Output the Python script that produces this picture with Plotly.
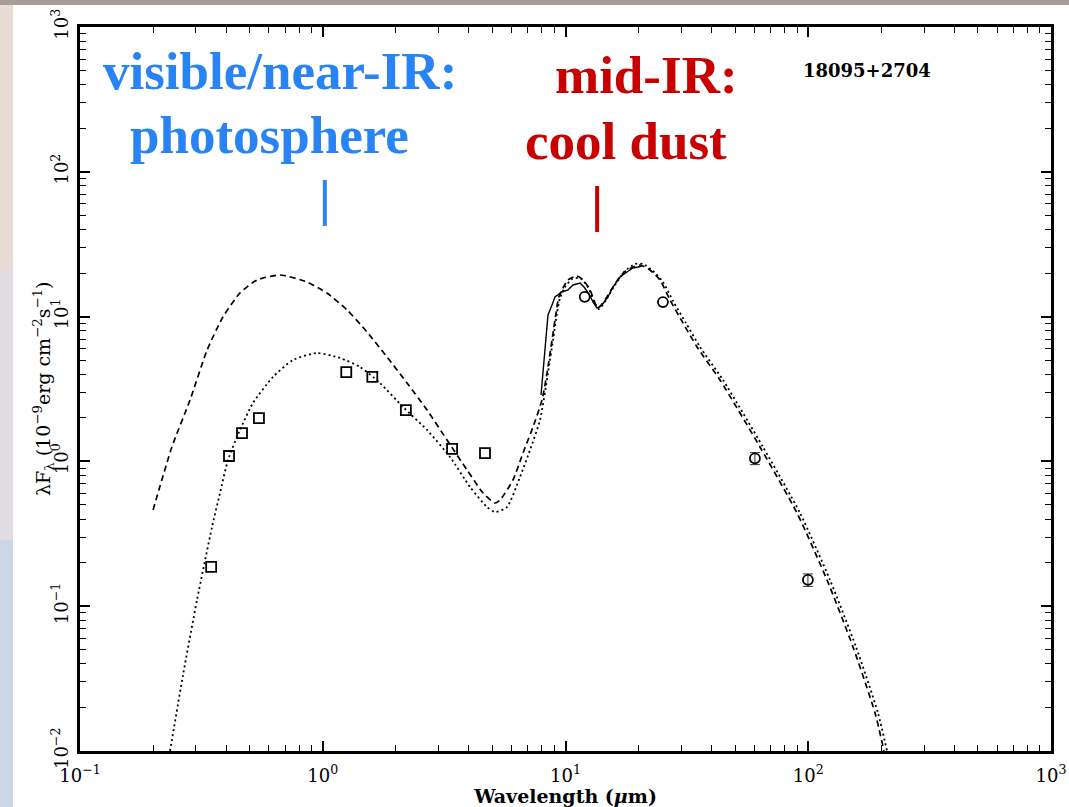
import plotly.graph_objects as go

# ---------------- data ----------------
dash_wl = [0.200, 0.239, 0.284, 0.334, 0.388, 0.456, 0.536, 0.667, 0.861, 1.041, 1.259, 1.522,
           1.839, 2.224, 2.689, 3.25, 3.93, 4.575, 5.125, 5.373, 6.077, 6.681, 7.347, 8.003,
           8.391, 8.799, 9.14, 9.36, 9.67, 10.24, 11.15, 11.81, 12.62, 13.23, 13.61, 14.54,
           15.69, 17.26, 18.97, 20.27, 22.29, 24.51, 26.95, 30.49, 34.81, 43.29, 63.29, 89.88,
           119.5, 152.9, 188.4, 205.2]
dash_flux = [0.462, 1.257, 2.655, 5.88, 9.94, 14.55, 17.9, 19.38, 17.34, 14.55, 11.11, 7.83,
             5.26, 3.48, 2.265, 1.405, 0.872, 0.605, 0.516, 0.541, 0.744, 1.143, 1.728, 2.655,
             4.08, 6.89, 10.59, 13.44, 15.27, 17.9, 19.07, 17.9, 15.27, 12.41, 11.47, 13.02,
             16.01, 20.0, 22.0, 22.72, 20.98, 17.9, 13.02, 9.03, 6.17, 3.65, 1.257, 0.440,
             0.1517, 0.0523, 0.0183, 0.0100]

dot_wl = [0.2349, 0.2657, 0.3034, 0.3498, 0.3773, 0.4071, 0.456, 0.516, 0.6238, 0.7543, 0.947,
          1.178, 1.424, 1.721, 2.141, 2.689, 3.344, 4.043, 4.749, 5.125, 5.741, 6.494, 7.142,
          7.852, 8.47, 8.883, 9.226, 9.493, 9.954, 10.64, 11.48, 12.38, 13.11, 13.74, 14.68,
          15.99, 17.59, 19.33, 20.86, 22.94, 25.22, 27.73, 31.36, 35.82, 44.54, 65.11, 92.47,
          122.9, 157.3, 193.8, 211.1]
dot_flux = [0.0100, 0.0335, 0.1104, 0.352, 0.605, 1.023, 1.648, 2.531, 3.83, 5.016, 5.606,
            5.178, 4.486, 3.48, 2.375, 1.648, 1.072, 0.666, 0.484, 0.447, 0.484, 0.780, 1.198,
            1.931, 4.08, 6.89, 10.59, 13.44, 16.01, 18.19, 18.48, 16.01, 12.61, 11.28, 13.02,
            16.53, 20.65, 23.09, 23.09, 20.65, 17.34, 12.81, 9.03, 6.17, 3.65, 1.257, 0.440,
            0.1517, 0.0523, 0.0183, 0.0100]

lrs_wl = [7.928, 8.233, 8.47, 8.799, 9.05, 9.67, 10.24, 10.74, 11.48, 11.92, 12.50, 12.98,
          13.49, 14.14, 14.96, 15.69, 16.77, 17.92, 18.97, 19.89, 20.66]
lrs_flux = [2.874, 5.88, 10.26, 12.03, 13.66, 14.79, 15.27, 16.53, 17.07, 16.01, 14.32, 12.61,
            11.47, 12.03, 13.66, 16.01, 18.77, 20.32, 21.66, 22.0, 22.36]

phot_wl = [0.347, 0.411, 0.465, 0.546, 1.25, 1.60, 2.20, 3.41, 4.66]
phot_flux = [0.187, 1.09, 1.57, 1.99, 4.14, 3.83, 2.26, 1.22, 1.14]

iras_wl = [12.0, 25.2]
iras_flux = [13.7, 12.6]
iras_far_wl = [60.3, 99.7]
iras_far_flux = [1.05, 0.152]
iras_far_err = [0.10, 0.015]

region_wl = [1.02, 13.5]
region_lo = [42.3, 38.4]
region_hi = [87.8, 79.8]
region_colors = ["rgb(40,132,245)", "rgb(200,0,0)"]

x_ticks = [0.1, 1, 10, 100, 1000]
x_tick_labels = ["10<sup>−1</sup>", "10<sup>0</sup>", "10<sup>1</sup>", "10<sup>2</sup>", "10<sup>3</sup>"]
y_ticks = [0.01, 0.1, 1, 10, 100, 1000]
y_tick_labels = ["10<sup>−2</sup>", "10<sup>−1</sup>", "10<sup>0</sup>", "10<sup>1</sup>",
                 "10<sup>2</sup>", "10<sup>3</sup>"]
x_minor = [m * 10.0 ** e for e in range(-1, 3) for m in range(2, 10)]
y_minor = [m * 10.0 ** e for e in range(-2, 3) for m in range(2, 10)]

# ---------------- layout geometry ----------------
W, H = 1069, 807
L, R, T, B = 80, 1051, 27, 751


def px(p):
    return (p - L) / (R - L)


def py(p):
    return (B - p) / (B - T)


SERIF = "DejaVu Serif"
TIMES = "Liberation Serif"

fig = go.Figure()

fig.add_trace(go.Scatter(x=dash_wl, y=dash_flux, mode="lines",
                         line=dict(color="black", width=1.7, dash="6px,4px", shape="spline", smoothing=0.6),
                         showlegend=False, hoverinfo="skip"))
fig.add_trace(go.Scatter(x=dot_wl, y=dot_flux, mode="lines",
                         line=dict(color="black", width=1.8, dash="2px,3px", shape="spline", smoothing=0.6),
                         showlegend=False, hoverinfo="skip"))
fig.add_trace(go.Scatter(x=lrs_wl, y=lrs_flux, mode="lines",
                         line=dict(color="black", width=1.4),
                         showlegend=False, hoverinfo="skip"))
fig.add_trace(go.Scatter(x=phot_wl, y=phot_flux, mode="markers",
                         marker=dict(symbol="square-open", size=10, color="black", line=dict(width=1.8)),
                         showlegend=False, hoverinfo="skip"))
fig.add_trace(go.Scatter(x=iras_wl, y=iras_flux, mode="markers",
                         marker=dict(symbol="circle-open", size=10, color="black", line=dict(width=1.8)),
                         showlegend=False, hoverinfo="skip"))
fig.add_trace(go.Scatter(x=iras_far_wl, y=iras_far_flux, mode="markers",
                         marker=dict(symbol="circle-open", size=10, color="black", line=dict(width=1.8)),
                         error_y=dict(type="data", array=iras_far_err, color="black", thickness=0.8, width=5),
                         showlegend=False, hoverinfo="skip"))

# region markers (short coloured bars)
for wl, lo, hi, col in zip(region_wl, region_lo, region_hi, region_colors):
    fig.add_shape(type="line", xref="x", yref="y", x0=wl, x1=wl, y0=lo, y1=hi,
                  line=dict(color=col, width=4))

# background (slide photo behind the scanned figure)
bg_shapes = [
    (0, 13, 0, 270, "#e8ddd6"),
    (0, 13, 270, 540, "#e2dbe1"),
    (0, 13, 540, 807, "#cdd6e7"),
    (0, 1069, 0, 5, "#a59e98"),
    (13, 1069, 5, 807, "white"),
]
for x0, x1, y0, y1, c in bg_shapes:
    fig.add_shape(type="rect", xref="paper", yref="paper", layer="below",
                  x0=px(x0), x1=px(x1), y0=py(y1), y1=py(y0),
                  line=dict(width=0), fillcolor=c)

# annotations
ann = [
    ("visible/near-IR:", 280, 71, "rgb(40,132,245)", TIMES, 53),
    ("photosphere", 269, 135, "rgb(40,132,245)", TIMES, 53),
    ("mid-IR:", 646, 75, "rgb(200,0,0)", TIMES, 53),
    ("cool dust", 626, 141, "rgb(200,0,0)", TIMES, 53),
    ("18095+2704", 867, 70, "black", SERIF, 18),
]
for text, x, y, col, fam, size in ann:
    fig.add_annotation(text=f"<b>{text}</b>", xref="paper", yref="paper",
                       x=px(x), y=py(y), xanchor="center", yanchor="middle", showarrow=False,
                       font=dict(family=fam, size=size, color=col))

axis_common = dict(
    type="log", showgrid=False, zeroline=False, automargin=False,
    showline=True, linecolor="black", linewidth=3, mirror="allticks",
    ticks="inside", ticklen=10, tickwidth=1.6, tickcolor="black",
    tickmode="array",
    tickfont=dict(family=SERIF, size=18, color="black"),
)

fig.update_xaxes(**axis_common, range=[-1, 3], tickvals=x_ticks, ticktext=x_tick_labels,
                 ticklabelstandoff=6,
                 minor=dict(tickmode="array", tickvals=x_minor, ticks="inside", ticklen=6,
                            tickwidth=1.4, tickcolor="black"),
                 title=dict(text="<b>Wavelength (<i>μ</i>m)</b>", standoff=0,
                            font=dict(family=SERIF, size=19, color="black")))
fig.update_yaxes(**axis_common, range=[-2, 3], tickvals=y_ticks, ticktext=y_tick_labels,
                 tickangle=-90, ticklabelstandoff=2,
                 minor=dict(tickmode="array", tickvals=y_minor, ticks="inside", ticklen=6,
                            tickwidth=1.4, tickcolor="black"))

# y-axis title placed where the reference has it (partly over the tick labels)
fig.add_annotation(text="λF<sub>λ</sub> (10<sup>−9</sup>erg cm<sup>−2</sup>s<sup>−1</sup>)",
                   xref="paper", yref="paper", x=px(43), y=py(389), textangle=-90,
                   xanchor="center", yanchor="middle", showarrow=False,
                   font=dict(family=SERIF, size=19, color="black"))

fig.update_layout(
    width=W, height=H,
    margin=dict(l=L, r=W - R, t=T, b=H - B, pad=0, autoexpand=False),
    paper_bgcolor="#ddd6d8", plot_bgcolor="white",
    showlegend=False,
)

fig.write_html("out.html")
